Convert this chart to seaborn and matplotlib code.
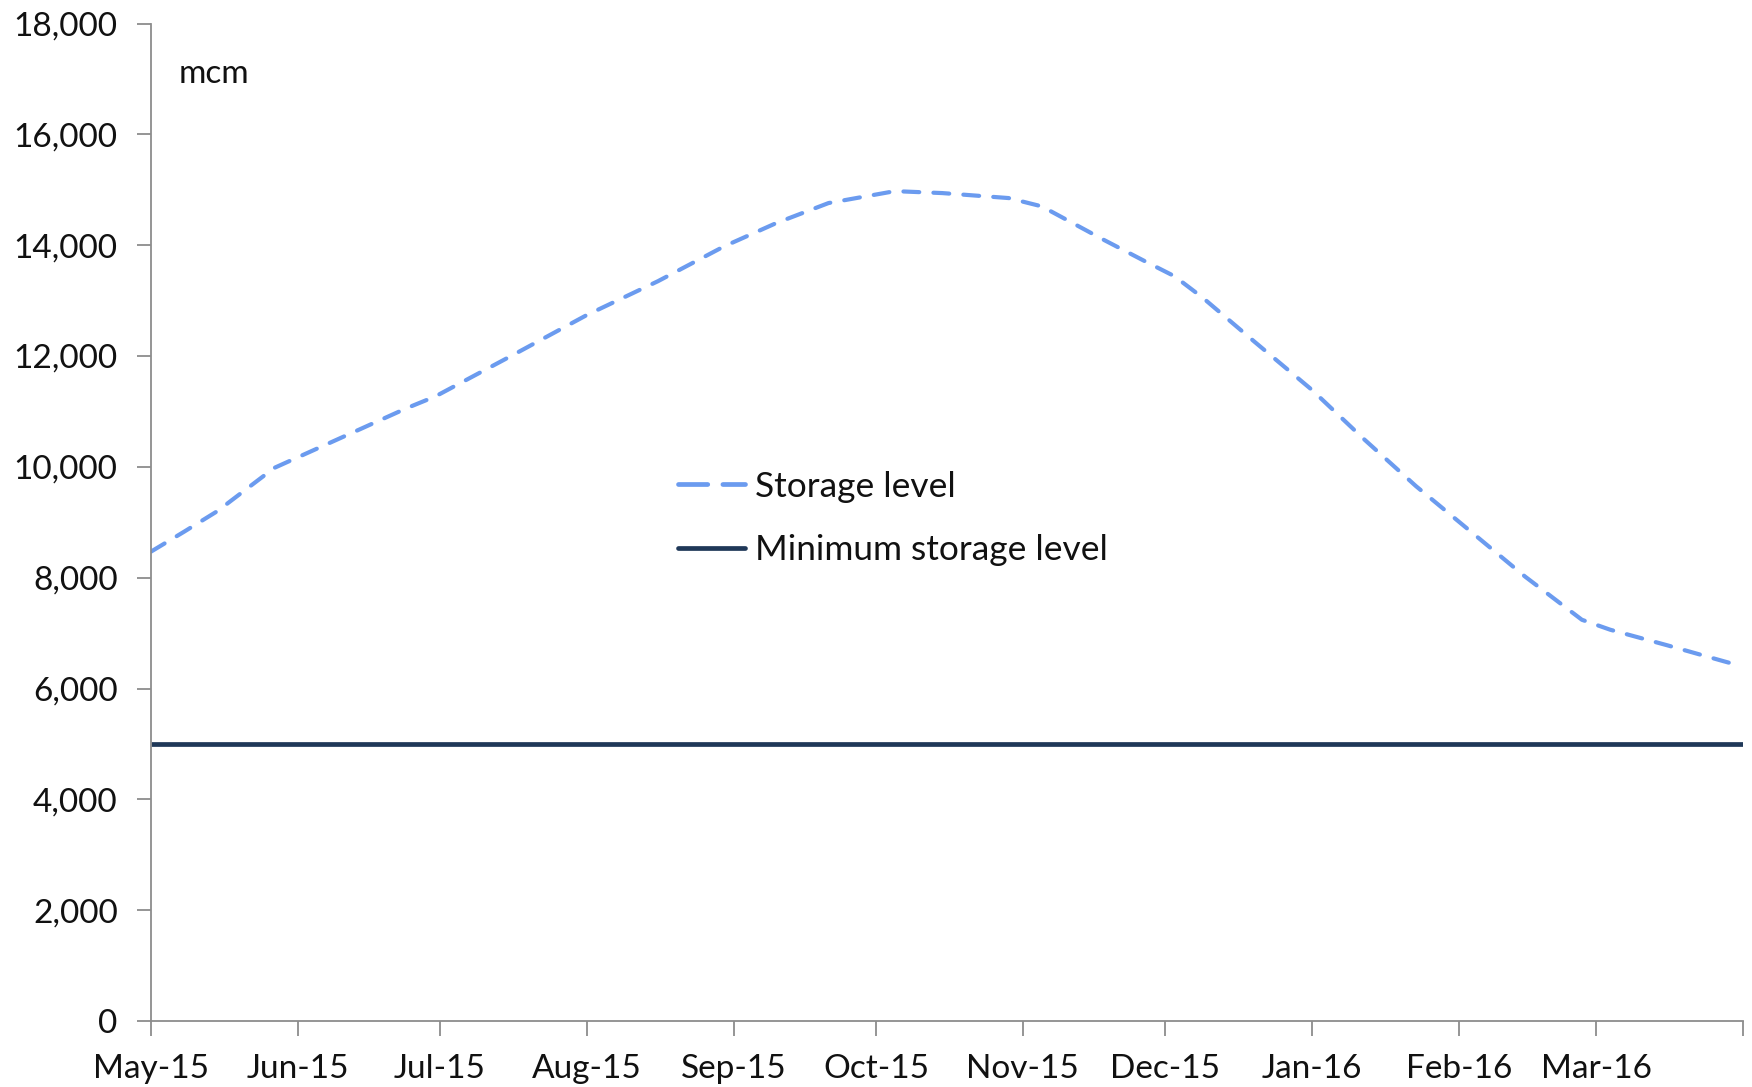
import matplotlib
matplotlib.use("Agg")
import matplotlib.pyplot as plt
import seaborn as sns
import pandas as pd
import numpy as np
from matplotlib.ticker import FuncFormatter
from matplotlib.lines import Line2D

# ---- data ----
storage_dates = ["2015-05-01", "2015-05-08", "2015-05-15", "2015-05-21", "2015-05-27",
                 "2015-06-03", "2015-06-10", "2015-06-17", "2015-06-24", "2015-06-30",
                 "2015-07-16", "2015-08-01", "2015-08-16", "2015-08-30", "2015-09-10",
                 "2015-09-21", "2015-10-05", "2015-10-15", "2015-10-29", "2015-11-05",
                 "2015-11-18", "2015-11-27", "2015-12-03", "2015-12-09", "2015-12-20",
                 "2016-01-01", "2016-01-12", "2016-01-23", "2016-02-04", "2016-02-15",
                 "2016-02-27", "2016-03-04", "2016-03-16", "2016-03-28", "2016-03-31"]
storage_values = [8470, 8830, 9200, 9590, 9980,
                  10250, 10520, 10790, 11060, 11270,
                  12000, 12740, 13350, 13980, 14400,
                  14760, 14975, 14940, 14850, 14700,
                  14100, 13700, 13440, 13050, 12250,
                  11390, 10500, 9650, 8800, 8020,
                  7240, 7060, 6780, 6490, 6420]
min_dates = ["2015-05-01", "2016-04-01"]
min_values = [5000, 5000]
month_ticks = pd.date_range("2015-05-01", "2016-04-01", freq="MS")
month_labels = [d.strftime("%b-%y") for d in month_ticks[:-1]] + [""]
series_names = ["Storage level", "Minimum storage level"]
unit_label = "mcm"

storage_df = pd.DataFrame({"date": pd.to_datetime(storage_dates), "value": storage_values})
min_df = pd.DataFrame({"date": pd.to_datetime(min_dates), "value": min_values})

sns.set_theme(style="white")
plt.rcParams["font.family"] = ["Lato", "DejaVu Sans"]

fig = plt.figure(figsize=(17.52, 10.87), dpi=100)
ax = fig.add_axes([151 / 1752, 1 - 1021 / 1087, (1743 - 151) / 1752, (1021 - 23.5) / 1087])

blue = "#6b9bef"
navy = "#1f3858"

sns.lineplot(data=min_df, x="date", y="value", ax=ax, color=navy, linewidth=3.4,
             solid_capstyle="butt")
sns.lineplot(data=storage_df, x="date", y="value", ax=ax, color=blue, linewidth=3.0)
ax.lines[-1].set_dashes((3.8, 3.4))
ax.lines[-1].set_dash_capstyle("round")

ax.set_xlim(pd.Timestamp("2015-05-01"), pd.Timestamp("2016-04-01"))
ax.set_ylim(0, 18000)
ax.set_yticks(np.arange(0, 18001, 2000))
ax.yaxis.set_major_formatter(FuncFormatter(lambda v, p: f"{int(v):,}"))
ax.set_xticks(month_ticks)
ax.set_xticklabels(month_labels)
ax.set_xlabel("")
ax.set_ylabel("")

for s in ["top", "right"]:
    ax.spines[s].set_visible(False)
for s in ["left", "bottom"]:
    ax.spines[s].set_color("#8c8c8c")
    ax.spines[s].set_linewidth(1.3)

ax.tick_params(axis="x", which="major", direction="out", length=11, width=1.3,
               color="#8c8c8c", labelsize=24, pad=13, bottom=True)
ax.tick_params(axis="y", which="major", direction="out", length=10, width=1.3,
               color="#8c8c8c", labelsize=24, pad=14, left=True)
for lab in ax.get_xticklabels() + ax.get_yticklabels():
    lab.set_color("#111111")

ax.text(0.0176, 0.949, unit_label, transform=ax.transAxes, fontsize=24,
        va="center", ha="left", color="#111111")

handles = [Line2D([], [], color=blue, linewidth=3.4, dashes=(6.2, 3.2), dash_capstyle="round"),
           Line2D([], [], color=navy, linewidth=3.4)]
leg = ax.legend(handles, series_names, loc="upper left",
                bbox_to_anchor=((664 - 151) / 1592, (1021 - 457) / 997),
                fontsize=25.4, frameon=False, handlelength=1.9, handletextpad=0.28,
                labelspacing=0.88, borderaxespad=0)
for t in leg.get_texts():
    t.set_color("#111111")

fig.savefig("out.png", dpi=100)
